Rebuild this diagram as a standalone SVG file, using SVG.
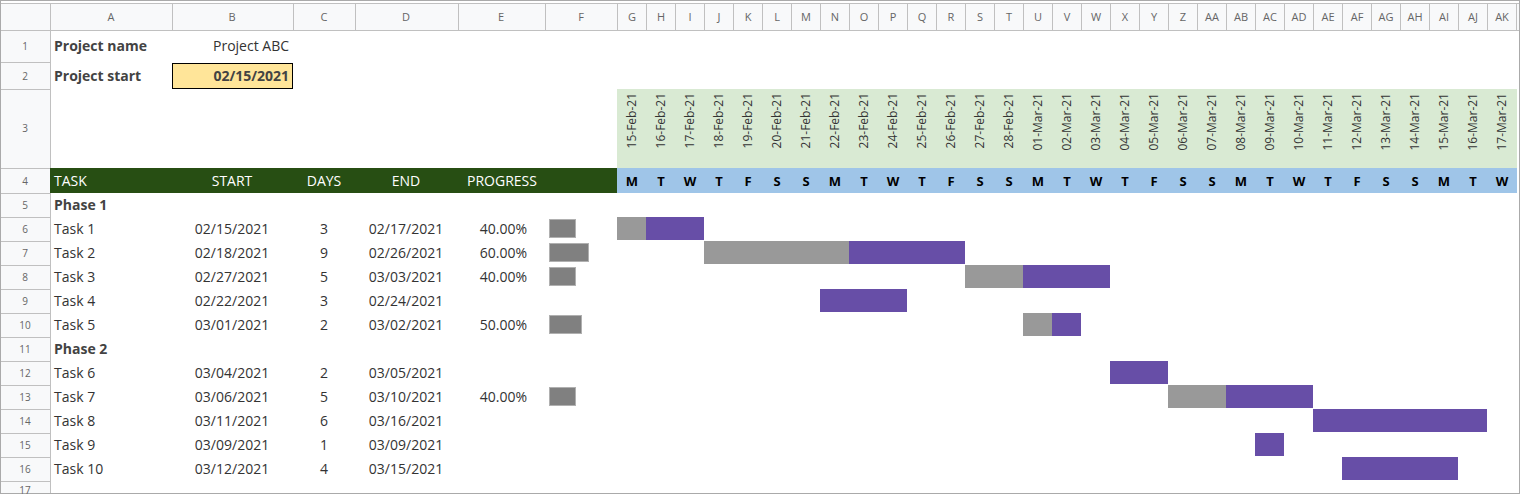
<svg xmlns="http://www.w3.org/2000/svg" width="1521" height="495" viewBox="0 0 1521 495">
<style>
text{font-family:"Open Sans","Liberation Sans",sans-serif;}
.hd{font-size:11px;fill:#666;text-anchor:middle;}
.rn{font-size:10px;fill:#666;text-anchor:middle;}
.t{font-size:14px;fill:#333;}
.b{font-size:14px;fill:#434343;font-weight:bold;}
.w{font-size:14px;fill:#fff;}
.c{text-anchor:middle;}
.r{text-anchor:end;}
.dt{font-size:12px;fill:#333;text-anchor:end;}
.dy{font-size:13px;fill:#000;font-weight:bold;text-anchor:middle;}
.g{fill:#999;}
.p{fill:#674ea7;}
.pb{fill:#808080;stroke:#b0b0b0;stroke-width:1;}
</style>
<rect x="0" y="0" width="1521" height="495" fill="#fff"/>
<g id="headers">
<rect x="0" y="3" width="1519" height="27" fill="#f8f9fa"/>
<rect x="0" y="3" width="50" height="490" fill="#f8f9fa"/>
<g stroke="#c0c0c0" stroke-width="1">
<line x1="0" y1="30.5" x2="1519" y2="30.5"/>
<line x1="50.5" y1="3" x2="50.5" y2="493"/>
<line x1="0" y1="3.5" x2="1519" y2="3.5"/>
<line x1="172.5" y1="3" x2="172.5" y2="30"/><line x1="293.5" y1="3" x2="293.5" y2="30"/><line x1="355.5" y1="3" x2="355.5" y2="30"/><line x1="458.5" y1="3" x2="458.5" y2="30"/><line x1="545.5" y1="3" x2="545.5" y2="30"/><line x1="617.5" y1="3" x2="617.5" y2="30"/>
<line x1="646.5" y1="3" x2="646.5" y2="30"/><line x1="675.5" y1="3" x2="675.5" y2="30"/><line x1="704.5" y1="3" x2="704.5" y2="30"/><line x1="733.5" y1="3" x2="733.5" y2="30"/><line x1="762.5" y1="3" x2="762.5" y2="30"/><line x1="791.5" y1="3" x2="791.5" y2="30"/><line x1="820.5" y1="3" x2="820.5" y2="30"/><line x1="849.5" y1="3" x2="849.5" y2="30"/><line x1="878.5" y1="3" x2="878.5" y2="30"/><line x1="907.5" y1="3" x2="907.5" y2="30"/><line x1="936.5" y1="3" x2="936.5" y2="30"/><line x1="965.5" y1="3" x2="965.5" y2="30"/><line x1="994.5" y1="3" x2="994.5" y2="30"/><line x1="1023.5" y1="3" x2="1023.5" y2="30"/><line x1="1052.5" y1="3" x2="1052.5" y2="30"/><line x1="1081.5" y1="3" x2="1081.5" y2="30"/><line x1="1110.5" y1="3" x2="1110.5" y2="30"/><line x1="1139.5" y1="3" x2="1139.5" y2="30"/><line x1="1168.5" y1="3" x2="1168.5" y2="30"/><line x1="1197.5" y1="3" x2="1197.5" y2="30"/><line x1="1226.5" y1="3" x2="1226.5" y2="30"/><line x1="1255.5" y1="3" x2="1255.5" y2="30"/><line x1="1284.5" y1="3" x2="1284.5" y2="30"/><line x1="1313.5" y1="3" x2="1313.5" y2="30"/><line x1="1342.5" y1="3" x2="1342.5" y2="30"/><line x1="1371.5" y1="3" x2="1371.5" y2="30"/><line x1="1400.5" y1="3" x2="1400.5" y2="30"/><line x1="1429.5" y1="3" x2="1429.5" y2="30"/><line x1="1458.5" y1="3" x2="1458.5" y2="30"/><line x1="1487.5" y1="3" x2="1487.5" y2="30"/><line x1="1516.5" y1="3" x2="1516.5" y2="30"/>
<line x1="0" y1="62.5" x2="50" y2="62.5"/><line x1="0" y1="89.5" x2="50" y2="89.5"/><line x1="0" y1="168.5" x2="50" y2="168.5"/><line x1="0" y1="193.5" x2="50" y2="193.5"/>
<line x1="0" y1="217.5" x2="50" y2="217.5"/><line x1="0" y1="241.5" x2="50" y2="241.5"/><line x1="0" y1="265.5" x2="50" y2="265.5"/><line x1="0" y1="289.5" x2="50" y2="289.5"/><line x1="0" y1="313.5" x2="50" y2="313.5"/><line x1="0" y1="337.5" x2="50" y2="337.5"/><line x1="0" y1="361.5" x2="50" y2="361.5"/><line x1="0" y1="385.5" x2="50" y2="385.5"/><line x1="0" y1="409.5" x2="50" y2="409.5"/><line x1="0" y1="433.5" x2="50" y2="433.5"/><line x1="0" y1="457.5" x2="50" y2="457.5"/><line x1="0" y1="481.5" x2="50" y2="481.5"/>
</g>
<rect x="0.5" y="0.5" width="1519" height="493" fill="none" stroke="#aaa"/>
<text class="hd" x="111" y="21">A</text><text class="hd" x="232" y="21">B</text><text class="hd" x="324" y="21">C</text><text class="hd" x="406" y="21">D</text><text class="hd" x="501" y="21">E</text><text class="hd" x="581" y="21">F</text>
<text class="hd" x="632" y="21">G</text><text class="hd" x="661" y="21">H</text><text class="hd" x="690" y="21">I</text><text class="hd" x="719" y="21">J</text><text class="hd" x="748" y="21">K</text><text class="hd" x="777" y="21">L</text><text class="hd" x="806" y="21">M</text><text class="hd" x="835" y="21">N</text><text class="hd" x="864" y="21">O</text><text class="hd" x="893" y="21">P</text><text class="hd" x="922" y="21">Q</text><text class="hd" x="951" y="21">R</text><text class="hd" x="980" y="21">S</text><text class="hd" x="1009" y="21">T</text><text class="hd" x="1038" y="21">U</text><text class="hd" x="1067" y="21">V</text><text class="hd" x="1096" y="21">W</text><text class="hd" x="1125" y="21">X</text><text class="hd" x="1154" y="21">Y</text><text class="hd" x="1183" y="21">Z</text><text class="hd" x="1212" y="21">AA</text><text class="hd" x="1241" y="21">AB</text><text class="hd" x="1270" y="21">AC</text><text class="hd" x="1299" y="21">AD</text><text class="hd" x="1328" y="21">AE</text><text class="hd" x="1357" y="21">AF</text><text class="hd" x="1386" y="21">AG</text><text class="hd" x="1415" y="21">AH</text><text class="hd" x="1444" y="21">AI</text><text class="hd" x="1473" y="21">AJ</text><text class="hd" x="1502" y="21">AK</text>
<text class="rn" x="25" y="50">1</text><text class="rn" x="25" y="80">2</text><text class="rn" x="25" y="132">3</text><text class="rn" x="25" y="185">4</text>
<text class="rn" x="25" y="209">5</text><text class="rn" x="25" y="233">6</text><text class="rn" x="25" y="257">7</text><text class="rn" x="25" y="281">8</text><text class="rn" x="25" y="305">9</text><text class="rn" x="25" y="329">10</text><text class="rn" x="25" y="353">11</text><text class="rn" x="25" y="377">12</text><text class="rn" x="25" y="401">13</text><text class="rn" x="25" y="425">14</text><text class="rn" x="25" y="449">15</text><text class="rn" x="25" y="473">16</text><text class="rn" x="25" y="494">17</text>
</g>
<g id="project-info">
<text class="b" x="54" y="51">Project name</text>
<text class="t r" x="289" y="51">Project ABC</text>
<text class="b" x="54" y="81">Project start</text>
<rect x="172.5" y="63.5" width="120" height="25" fill="#ffe599" stroke="#000"/>
<text class="b r" x="289" y="81">02/15/2021</text>
</g>
<g id="timeline-header">
<rect x="617" y="89" width="900" height="79" fill="#d9ead3"/>
<rect x="617" y="168" width="900" height="25" fill="#9fc5e8"/>
<rect x="50" y="168" width="567" height="25" fill="#274e13"/>
<text class="w" x="54" y="186">TASK</text><text class="w c" x="232" y="186">START</text><text class="w c" x="324" y="186">DAYS</text><text class="w c" x="406" y="186">END</text><text class="w c" x="502" y="186">PROGRESS</text>
<g transform="translate(636,93) rotate(-90)"><text class="dt">15-Feb-21</text></g>
<g transform="translate(665,93) rotate(-90)"><text class="dt">16-Feb-21</text></g>
<g transform="translate(694,93) rotate(-90)"><text class="dt">17-Feb-21</text></g>
<g transform="translate(723,93) rotate(-90)"><text class="dt">18-Feb-21</text></g>
<g transform="translate(752,93) rotate(-90)"><text class="dt">19-Feb-21</text></g>
<g transform="translate(781,93) rotate(-90)"><text class="dt">20-Feb-21</text></g>
<g transform="translate(810,93) rotate(-90)"><text class="dt">21-Feb-21</text></g>
<g transform="translate(839,93) rotate(-90)"><text class="dt">22-Feb-21</text></g>
<g transform="translate(868,93) rotate(-90)"><text class="dt">23-Feb-21</text></g>
<g transform="translate(897,93) rotate(-90)"><text class="dt">24-Feb-21</text></g>
<g transform="translate(926,93) rotate(-90)"><text class="dt">25-Feb-21</text></g>
<g transform="translate(955,93) rotate(-90)"><text class="dt">26-Feb-21</text></g>
<g transform="translate(984,93) rotate(-90)"><text class="dt">27-Feb-21</text></g>
<g transform="translate(1013,93) rotate(-90)"><text class="dt">28-Feb-21</text></g>
<g transform="translate(1042,93) rotate(-90)"><text class="dt">01-Mar-21</text></g>
<g transform="translate(1071,93) rotate(-90)"><text class="dt">02-Mar-21</text></g>
<g transform="translate(1100,93) rotate(-90)"><text class="dt">03-Mar-21</text></g>
<g transform="translate(1129,93) rotate(-90)"><text class="dt">04-Mar-21</text></g>
<g transform="translate(1158,93) rotate(-90)"><text class="dt">05-Mar-21</text></g>
<g transform="translate(1187,93) rotate(-90)"><text class="dt">06-Mar-21</text></g>
<g transform="translate(1216,93) rotate(-90)"><text class="dt">07-Mar-21</text></g>
<g transform="translate(1245,93) rotate(-90)"><text class="dt">08-Mar-21</text></g>
<g transform="translate(1274,93) rotate(-90)"><text class="dt">09-Mar-21</text></g>
<g transform="translate(1303,93) rotate(-90)"><text class="dt">10-Mar-21</text></g>
<g transform="translate(1332,93) rotate(-90)"><text class="dt">11-Mar-21</text></g>
<g transform="translate(1361,93) rotate(-90)"><text class="dt">12-Mar-21</text></g>
<g transform="translate(1390,93) rotate(-90)"><text class="dt">13-Mar-21</text></g>
<g transform="translate(1419,93) rotate(-90)"><text class="dt">14-Mar-21</text></g>
<g transform="translate(1448,93) rotate(-90)"><text class="dt">15-Mar-21</text></g>
<g transform="translate(1477,93) rotate(-90)"><text class="dt">16-Mar-21</text></g>
<g transform="translate(1506,93) rotate(-90)"><text class="dt">17-Mar-21</text></g>
<text class="dy" x="632" y="186">M</text><text class="dy" x="661" y="186">T</text><text class="dy" x="690" y="186">W</text><text class="dy" x="719" y="186">T</text><text class="dy" x="748" y="186">F</text><text class="dy" x="777" y="186">S</text><text class="dy" x="806" y="186">S</text><text class="dy" x="835" y="186">M</text><text class="dy" x="864" y="186">T</text><text class="dy" x="893" y="186">W</text><text class="dy" x="922" y="186">T</text><text class="dy" x="951" y="186">F</text><text class="dy" x="980" y="186">S</text><text class="dy" x="1009" y="186">S</text><text class="dy" x="1038" y="186">M</text><text class="dy" x="1067" y="186">T</text><text class="dy" x="1096" y="186">W</text><text class="dy" x="1125" y="186">T</text><text class="dy" x="1154" y="186">F</text><text class="dy" x="1183" y="186">S</text><text class="dy" x="1212" y="186">S</text><text class="dy" x="1241" y="186">M</text><text class="dy" x="1270" y="186">T</text><text class="dy" x="1299" y="186">W</text><text class="dy" x="1328" y="186">T</text><text class="dy" x="1357" y="186">F</text><text class="dy" x="1386" y="186">S</text><text class="dy" x="1415" y="186">S</text><text class="dy" x="1444" y="186">M</text><text class="dy" x="1473" y="186">T</text><text class="dy" x="1502" y="186">W</text>
</g>
<g id="tasks">
<text class="b" x="54" y="210">Phase 1</text>
<g id="task1"><text class="t" x="54" y="234">Task 1</text><text class="t c" x="232" y="234">02/15/2021</text><text class="t c" x="324" y="234">3</text><text class="t c" x="406" y="234">02/17/2021</text><text class="t r" x="527" y="234">40.00%</text><rect class="pb" x="549.5" y="219.5" width="26" height="18"/><rect class="g" x="617" y="217" width="29" height="23"/><rect class="p" x="646" y="217" width="58" height="23"/></g>
<g id="task2"><text class="t" x="54" y="258">Task 2</text><text class="t c" x="232" y="258">02/18/2021</text><text class="t c" x="324" y="258">9</text><text class="t c" x="406" y="258">02/26/2021</text><text class="t r" x="527" y="258">60.00%</text><rect class="pb" x="549.5" y="243.5" width="39" height="18"/><rect class="g" x="704" y="241" width="145" height="23"/><rect class="p" x="849" y="241" width="116" height="23"/></g>
<g id="task3"><text class="t" x="54" y="282">Task 3</text><text class="t c" x="232" y="282">02/27/2021</text><text class="t c" x="324" y="282">5</text><text class="t c" x="406" y="282">03/03/2021</text><text class="t r" x="527" y="282">40.00%</text><rect class="pb" x="549.5" y="267.5" width="26" height="18"/><rect class="g" x="965" y="265" width="58" height="23"/><rect class="p" x="1023" y="265" width="87" height="23"/></g>
<g id="task4"><text class="t" x="54" y="306">Task 4</text><text class="t c" x="232" y="306">02/22/2021</text><text class="t c" x="324" y="306">3</text><text class="t c" x="406" y="306">02/24/2021</text><rect class="p" x="820" y="289" width="87" height="23"/></g>
<g id="task5"><text class="t" x="54" y="330">Task 5</text><text class="t c" x="232" y="330">03/01/2021</text><text class="t c" x="324" y="330">2</text><text class="t c" x="406" y="330">03/02/2021</text><text class="t r" x="527" y="330">50.00%</text><rect class="pb" x="549.5" y="315.5" width="32" height="18"/><rect class="g" x="1023" y="313" width="29" height="23"/><rect class="p" x="1052" y="313" width="29" height="23"/></g>
<text class="b" x="54" y="354">Phase 2</text>
<g id="task6"><text class="t" x="54" y="378">Task 6</text><text class="t c" x="232" y="378">03/04/2021</text><text class="t c" x="324" y="378">2</text><text class="t c" x="406" y="378">03/05/2021</text><rect class="p" x="1110" y="361" width="58" height="23"/></g>
<g id="task7"><text class="t" x="54" y="402">Task 7</text><text class="t c" x="232" y="402">03/06/2021</text><text class="t c" x="324" y="402">5</text><text class="t c" x="406" y="402">03/10/2021</text><text class="t r" x="527" y="402">40.00%</text><rect class="pb" x="549.5" y="387.5" width="26" height="18"/><rect class="g" x="1168" y="385" width="58" height="23"/><rect class="p" x="1226" y="385" width="87" height="23"/></g>
<g id="task8"><text class="t" x="54" y="426">Task 8</text><text class="t c" x="232" y="426">03/11/2021</text><text class="t c" x="324" y="426">6</text><text class="t c" x="406" y="426">03/16/2021</text><rect class="p" x="1313" y="409" width="174" height="23"/></g>
<g id="task9"><text class="t" x="54" y="450">Task 9</text><text class="t c" x="232" y="450">03/09/2021</text><text class="t c" x="324" y="450">1</text><text class="t c" x="406" y="450">03/09/2021</text><rect class="p" x="1255" y="433" width="29" height="23"/></g>
<g id="task10"><text class="t" x="54" y="474">Task 10</text><text class="t c" x="232" y="474">03/12/2021</text><text class="t c" x="324" y="474">4</text><text class="t c" x="406" y="474">03/15/2021</text><rect class="p" x="1342" y="457" width="116" height="23"/></g>
</g>
<g id="connectors"></g>
</svg>
